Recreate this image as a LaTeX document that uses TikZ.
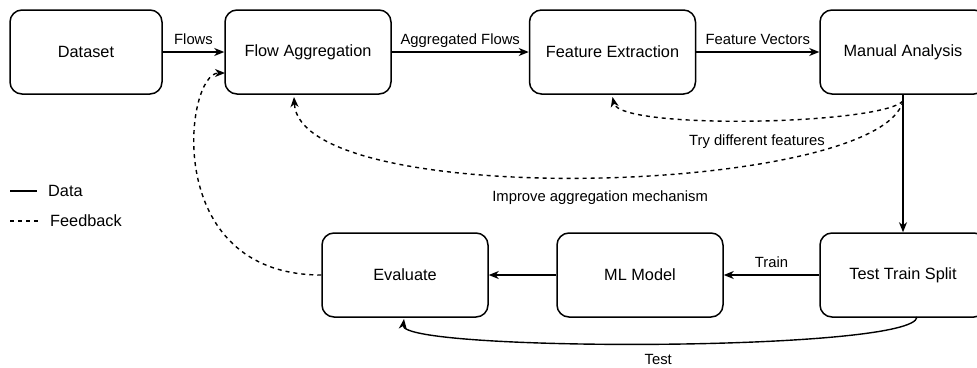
\documentclass[tikz,border=0pt]{standalone}
\usepackage{fontspec}
\setmainfont{Liberation Sans}
\usetikzlibrary{arrows.meta}
\begin{document}
\begin{tikzpicture}[x=1pt,y=-1pt,
  box/.style={draw, line width=1.5pt, rounded corners=12pt, minimum width=166pt,
    minimum height=84pt, inner sep=0pt, font=\fontsize{16.3}{19}\selectfont},
  flow/.style={line width=1.4pt, -{Stealth[length=10pt,width=8pt,inset=3pt]}},
  fb/.style={flow, dash pattern=on 4pt off 4pt},
  lbl/.style={font=\fontsize{14.8}{17}\selectfont, inner sep=0pt,
    text height=10.6pt, text depth=0pt},
  legendtext/.style={font=\fontsize{16.3}{19}\selectfont, inner sep=0pt,
    text height=11.7pt, text depth=0pt, anchor=west}
]
\useasboundingbox (0,0) rectangle (977,367);

% process boxes
\node[box, minimum width=152pt] (dataset) at (86,52) {Dataset};
\node[box] (agg) at (308,52) {Flow Aggregation};
\node[box] (feat) at (612.5,52) {Feature Extraction};
\node[box] (manual) at (903,52) {Manual Analysis};
\node[box] (split) at (903,275) {Test Train Split};
\node[box] (model) at (640,275) {ML Model};
\node[box] (eval) at (405,275) {Evaluate};

% attachment points for the curved connectors
\coordinate (maout) at (903,101);
\coordinate (featin) at (612.5,97);
\coordinate (aggin) at (294,97);
\coordinate (aggleft) at (225,73);
\coordinate (splitout) at (917,317);
\coordinate (evalin) at (404,319);

% data flow
\draw[flow] (dataset) -- node[lbl, above=7pt] {Flows} (agg);
\draw[flow] (agg) -- node[lbl, above=7pt] {Aggregated Flows} (feat);
\draw[flow] (feat) -- node[lbl, above=7pt] {Feature Vectors} (manual);
\draw[flow] (manual.south) -- (split.north);
\draw[flow] (split) -- node[lbl, above=7pt] {Train} (model);
\draw[flow] (model) -- (eval);
\draw[flow] (splitout) .. controls (915,352) and (400,352) .. node[lbl, below=10pt] {Test} (evalin);

% feedback loops
\draw[fb] (maout) .. controls (880,125) and (620,130) .. node[lbl, below=14pt, xshift=5pt] {Try different features} (featin);
\draw[fb] (maout) .. controls (880,195) and (300,212) .. node[lbl, below=12.5pt, xshift=8pt] {Improve aggregation mechanism} (aggin);
\draw[fb] (eval.west) .. controls (160,275) and (185,73) .. (aggleft);

% legend
\coordinate (dataA) at (10,191);
\coordinate (dataB) at (37,191);
\coordinate (fbA) at (10,221);
\coordinate (fbB) at (38,221);
\draw[line width=1.4pt] (dataA) -- (dataB);
\node[legendtext] (datalbl) at (48,191) {Data};
\draw[line width=1.4pt, dash pattern=on 4pt off 4pt] (fbA) -- (fbB);
\node[legendtext] (fblbl) at (50,221) {Feedback};
\end{tikzpicture}
\end{document}
